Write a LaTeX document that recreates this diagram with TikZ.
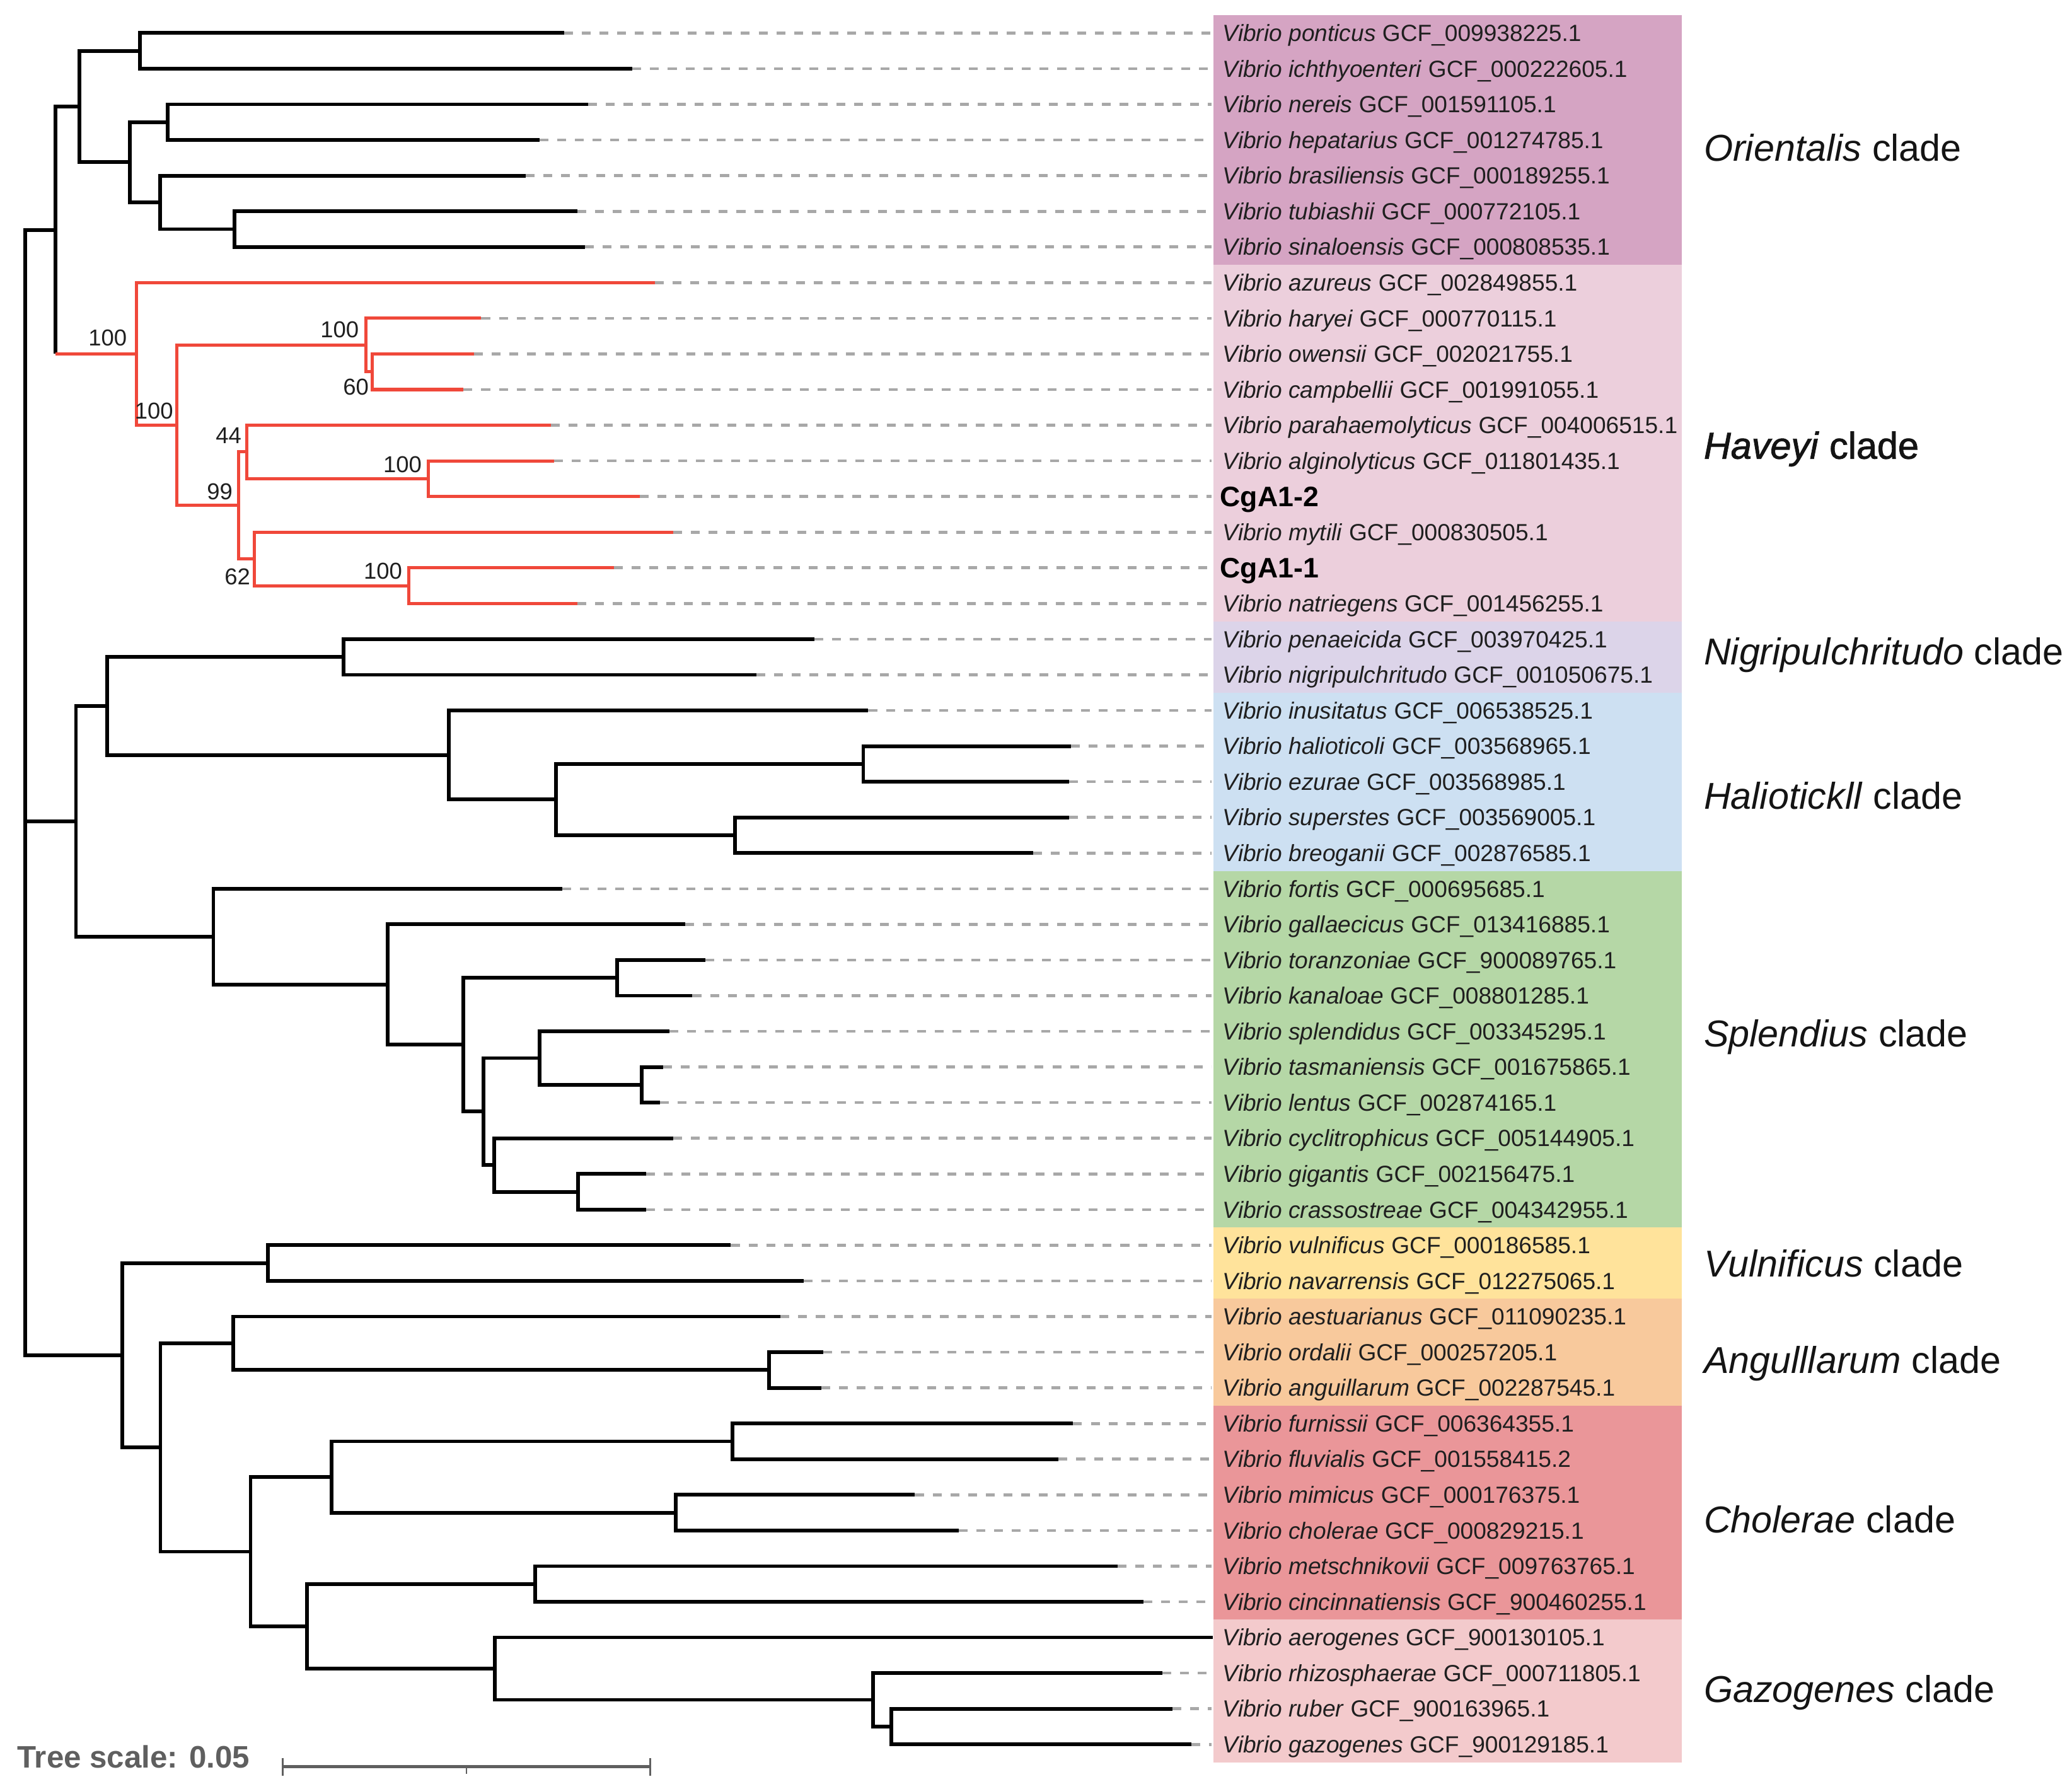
\documentclass[tikz,border=0pt]{standalone}
\usepackage{fontspec}
\setmainfont{Liberation Sans}
\newfontfamily\hvfont[FakeBold=1.5,ItalicFeatures={FakeBold=1.5}]{Liberation Sans}
\definecolor{cOri}{RGB}{213,164,195}
\definecolor{cHav}{RGB}{236,207,220}
\definecolor{cNig}{RGB}{220,212,233}
\definecolor{cHal}{RGB}{205,224,242}
\definecolor{cSpl}{RGB}{181,215,166}
\definecolor{cVul}{RGB}{255,227,155}
\definecolor{cAng}{RGB}{248,201,156}
\definecolor{cCho}{RGB}{234,150,153}
\definecolor{cGaz}{RGB}{243,202,204}
\definecolor{tred}{RGB}{240,72,58}
\definecolor{dgray}{RGB}{168,168,168}
\definecolor{sgray}{RGB}{95,95,95}
\begin{document}
\begin{tikzpicture}[x=0.5pt,y=-0.5pt,
  treeline/.style={line width=1.4pt,black,line join=miter},
  redline/.style={line width=1.2pt,tred,line join=miter},
  dashline/.style={line width=1.1pt,dgray,dash pattern=on 3.35pt off 3.35pt},
  leaflab/.style={anchor=base west,inner sep=0pt,yshift=-3.15pt,text=black!88,font=\fontsize{8.85}{10}\selectfont},
  cgalab/.style={anchor=base west,inner sep=0pt,yshift=-3.8pt,text=black,font=\fontsize{10.65}{12}\selectfont\bfseries},
  cladelab/.style={anchor=base west,inner sep=0pt,text=black!92,font=\fontsize{14.15}{17}\selectfont},
  bslab/.style={inner sep=0pt,text=black!88,font=\fontsize{8.7}{10}\selectfont}]
\useasboundingbox (0,0) rectangle (1568,1353.6);
% clade bands
\fill[cOri] (918.2,11.51) rectangle (1272.7,200.37);
\fill[cHav] (918.2,200.37) rectangle (1272.7,470.17);
\fill[cNig] (918.2,470.17) rectangle (1272.7,524.13);
\fill[cHal] (918.2,524.13) rectangle (1272.7,659.03);
\fill[cSpl] (918.2,659.03) rectangle (1272.7,928.83);
\fill[cVul] (918.2,928.83) rectangle (1272.7,982.79);
\fill[cAng] (918.2,982.79) rectangle (1272.7,1063.73);
\fill[cCho] (918.2,1063.73) rectangle (1272.7,1225.61);
\fill[cGaz] (918.2,1225.61) rectangle (1272.7,1333.53);
% leaves and labels
\foreach \i/\x/\n/\a in {
 1/426.7/ponticus/009938225.1, 2/478.6/ichthyoenteri/000222605.1,
 3/445.2/nereis/001591105.1, 4/408.3/hepatarius/001274785.1,
 5/397.6/brasiliensis/000189255.1, 6/436.8/tubiashii/000772105.1,
 7/442.5/sinaloensis/000808535.1, 8/495.4/azureus/002849855.1,
 9/364.2/haryei/000770115.1, 10/358.8/owensii/002021755.1,
 11/350.8/campbellii/001991055.1, 12/416.7/parahaemolyticus/004006515.1,
 13/419.4/alginolyticus/011801435.1, 15/509.4/mytili/000830505.1,
 17/437.1/natriegens/001456255.1, 18/616.1/penaeicida/003970425.1,
 19/572.2/nigripulchritudo/001050675.1, 20/657.1/inusitatus/006538525.1,
 21/810.4/halioticoli/003568965.1, 22/808.8/ezurae/003568985.1,
 23/808.8/superstes/003569005.1, 24/782.0/breoganii/002876585.1,
 25/425.5/fortis/000695685.1, 26/518.6/gallaecicus/013416885.1,
 27/533.9/toranzoniae/900089765.1, 28/524.0/kanaloae/008801285.1,
 29/506.5/splendidus/003345295.1, 30/501.6/tasmaniensis/001675865.1,
 31/499.4/lentus/002874165.1, 32/509.3/cyclitrophicus/005144905.1,
 33/489.0/gigantis/002156475.1, 34/489.0/crassostreae/004342955.1,
 35/553.1/vulnificus/000186585.1, 36/608.1/navarrensis/012275065.1,
 37/590.7/aestuarianus/011090235.1, 38/623.1/ordalii/000257205.1,
 39/621.4/anguillarum/002287545.1, 40/812.1/furnissii/006364355.1,
 41/801.1/fluvialis/001558415.2, 42/692.4/mimicus/000176375.1,
 43/725.4/cholerae/000829215.1, 44/845.6/metschnikovii/009763765.1,
 45/865.3/cincinnatiensis/900460255.1, 46/918.0/aerogenes/900130105.1,
 47/879.7/rhizosphaerae/000711805.1, 48/887.2/ruber/900163965.1,
 49/901.7/gazogenes/900129185.1}{
  \coordinate (l\i) at (\x,{25+(\i-1)*26.98});
  \node[leaflab] (t\i) at (925,{25+(\i-1)*26.98}) {\textit{Vibrio \n} GCF\_\a};
  \draw[dashline] (l\i) -- ([xshift=-4pt]t\i.west |- l\i);
}
\coordinate (l14) at (484.3,375.74);
\node[cgalab] (t14) at (923,375.74) {CgA1-2};
\draw[dashline] (l14) -- ([xshift=-3pt]t14.west |- l14);
\coordinate (l16) at (464.6,429.70);
\node[cgalab] (t16) at (923,429.70) {CgA1-1};
\draw[dashline] (l16) -- ([xshift=-3pt]t16.west |- l16);
% internal nodes
\coordinate (R) at (19.1,600);
\coordinate (A) at (41.8,174.2);
\coordinate (O1) at (60.2,80.65);
\coordinate (O2) at (105.8,38.49);
\coordinate (O3) at (98.1,122.8);
\coordinate (O4) at (126.9,92.45);
\coordinate (O5) at (121.2,153.16);
\coordinate (O6) at (177.4,173.39);
\coordinate (Hv) at (103.1,267.82);
\coordinate (HB) at (133.9,321.78);
\coordinate (HC) at (277.1,261.08);
\coordinate (HD) at (281.8,281.31);
\coordinate (HE) at (180.7,382.48);
\coordinate (HF) at (186.8,342.0);
\coordinate (HG) at (324.0,362.25);
\coordinate (HH) at (192.4,422.96);
\coordinate (HI) at (309.3,443.19);
\coordinate (J) at (57.5,621.5);
\coordinate (K) at (81.0,534.25);
\coordinate (NG) at (260.1,497.15);
\coordinate (HL) at (339.5,571.35);
\coordinate (HLL) at (420.6,605.07);
\coordinate (HM) at (653.3,578.09);
\coordinate (HN) at (556.4,632.05);
\coordinate (SO) at (161.5,708.78);
\coordinate (SP) at (293.5,745.03);
\coordinate (SQ) at (350.5,790.56);
\coordinate (SR) at (467.1,739.97);
\coordinate (SS) at (365.8,841.15);
\coordinate (ST) at (408.5,800.68);
\coordinate (SU) at (485.7,820.91);
\coordinate (SV) at (374.0,881.62);
\coordinate (SW) at (437.5,901.85);
\coordinate (X) at (92.5,1025.58);
\coordinate (VU) at (202.9,955.81);
\coordinate (Y) at (121.4,1095.35);
\coordinate (AN) at (176.3,1016.52);
\coordinate (AO) at (582.0,1036.75);
\coordinate (Z) at (189.6,1174.18);
\coordinate (CH) at (250.9,1117.69);
\coordinate (CF) at (554.3,1090.71);
\coordinate (CM) at (511.5,1144.67);
\coordinate (AA) at (232.4,1230.67);
\coordinate (MC) at (405.2,1198.63);
\coordinate (GZ) at (374.5,1262.71);
\coordinate (BB) at (660.7,1286.32);
\coordinate (CC) at (674.5,1306.55);
% black branches
\foreach \p/\c in {R/A,R/J,R/X,A/O1,O1/O2,O1/O3,O2/l1,O2/l2,O3/O4,O3/O5,O4/l3,O4/l4,O5/l5,O5/O6,O6/l6,O6/l7,
  J/K,J/SO,K/NG,K/HL,NG/l18,NG/l19,HL/l20,HL/HLL,HLL/HM,HLL/HN,HM/l21,HM/l22,HN/l23,HN/l24,
  SO/l25,SO/SP,SP/l26,SP/SQ,SQ/SR,SQ/SS,SR/l27,SR/l28,SS/ST,SS/SV,ST/l29,ST/SU,SU/l30,SU/l31,SV/l32,SV/SW,SW/l33,SW/l34,
  X/VU,X/Y,VU/l35,VU/l36,Y/AN,Y/Z,AN/l37,AN/AO,AO/l38,AO/l39,Z/CH,Z/AA,CH/CF,CH/CM,CF/l40,CF/l41,CM/l42,CM/l43,
  AA/MC,AA/GZ,MC/l44,MC/l45,GZ/l46,GZ/BB,BB/l47,BB/CC,CC/l48,CC/l49}{
  \draw[treeline] (\p) |- (\c);
}
% Haveyi (red) branches
\draw[treeline] (A) -- (A |- Hv);
\draw[redline] (A |- Hv) -- (Hv);
\foreach \p/\c in {Hv/l8,Hv/HB,HB/HC,HB/HE,HC/l9,HC/HD,HD/l10,HD/l11,HE/HF,HE/HH,HF/l12,HF/HG,HG/l13,HG/l14,HH/l15,HH/HI,HI/l16,HI/l17}{
  \draw[redline] (\p) |- (\c);
}
% bootstrap values
\node[bslab] (b1) at (81.5,255.5) {100};
\node[bslab] (b2) at (116.5,310.9) {100};
\node[bslab] (b3) at (257.0,249.4) {100};
\node[bslab] (b4) at (269.4,292.8) {60};
\node[bslab] (b5) at (173.0,329.7) {44};
\node[bslab] (b6) at (166.3,371.9) {99};
\node[bslab] (b7) at (304.6,351.6) {100};
\node[bslab] (b8) at (179.7,436.5) {62};
\node[bslab] (b9) at (289.8,432.0) {100};
% clade labels
\node[cladelab] (cl1) at (1289,122.1) {\textit{Orientalis} clade};
\node[cladelab,font={\hvfont\fontsize{14.15}{17}\selectfont}] (cl2) at (1289,347.1) {\textit{Haveyi} clade};
\node[cladelab] (cl3) at (1289,503.1) {\textit{Nigripulchritudo} clade};
\node[cladelab] (cl4) at (1289,612.1) {\textit{Haliotickll} clade};
\node[cladelab] (cl5) at (1289,792.1) {\textit{Splendius} clade};
\node[cladelab] (cl6) at (1289,966.1) {\textit{Vulnificus} clade};
\node[cladelab] (cl7) at (1289,1039.1) {\textit{Angulllarum} clade};
\node[cladelab] (cl8) at (1289,1160.1) {\textit{Cholerae} clade};
\node[cladelab] (cl9) at (1289,1288.1) {\textit{Gazogenes} clade};
% scale bar
\node[anchor=base west,inner sep=0pt,text=sgray,font=\fontsize{11.75}{14}\selectfont\bfseries] (ts) at (12.7,1337.9) {Tree scale: 0.05};
\coordinate (sb1) at (214,1337);
\coordinate (sbm) at (353,1337);
\coordinate (sb2) at (492,1337);
\draw[sgray,line width=1.1pt] (sb1) -- (sb2);
\draw[sgray,line width=0.6pt] ([yshift=3.3pt]sb1) -- ([yshift=-3.3pt]sb1);
\draw[sgray,line width=0.6pt] ([yshift=3.3pt]sb2) -- ([yshift=-3.3pt]sb2);
\draw[sgray,line width=0.6pt] (sbm) -- ([yshift=-2.6pt]sbm);
\end{tikzpicture}
\end{document}
